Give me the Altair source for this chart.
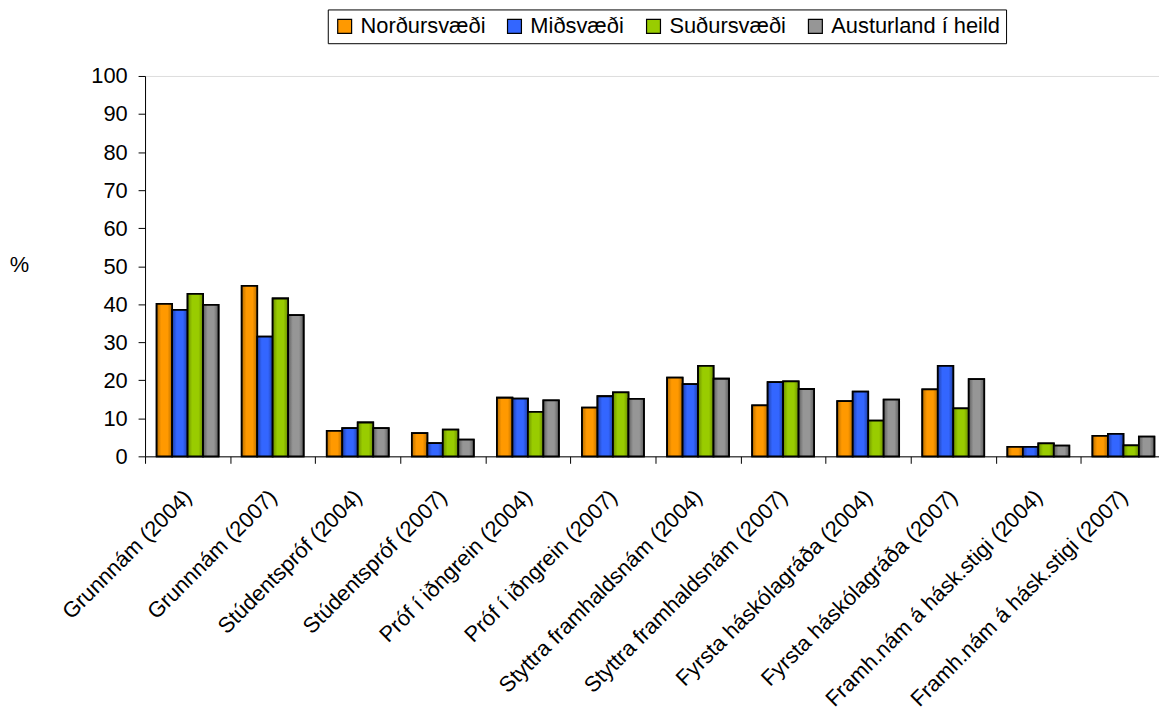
import altair as alt
import pandas as pd

categories = [
    "Grunnnám (2004)", "Grunnnám (2007)",
    "Stúdentspróf (2004)", "Stúdentspróf (2007)",
    "Próf í iðngrein (2004)", "Próf í iðngrein (2007)",
    "Styttra framhaldsnám (2004)", "Styttra framhaldsnám (2007)",
    "Fyrsta háskólagráða (2004)", "Fyrsta háskólagráða (2007)",
    "Framh.nám á hásk.stigi (2004)", "Framh.nám á hásk.stigi (2007)",
]
series = ["Norðursvæði", "Miðsvæði", "Suðursvæði", "Austurland í heild"]
colors = ["#FF9900", "#3366FF", "#99CC00", "#969696"]
dark_colors = ["#B86E00", "#1F3FA8", "#6B8F00", "#5E5E5E"]

nordur = [40.1, 44.8, 6.7, 6.1, 15.4, 12.8, 20.7, 13.4, 14.5, 17.6, 2.5, 5.4]
midur = [38.5, 31.5, 7.4, 3.5, 15.2, 15.8, 19.0, 19.5, 17.0, 23.8, 2.5, 5.9]
sudur = [42.7, 41.5, 8.9, 7.0, 11.7, 16.8, 23.8, 19.7, 9.4, 12.6, 3.4, 2.9]
austur = [39.8, 37.1, 7.4, 4.4, 14.7, 15.1, 20.4, 17.7, 14.9, 20.3, 2.8, 5.2]

y_ticks = list(range(0, 101, 10))

rows = []
for s, vals in zip(series, [nordur, midur, sudur, austur]):
    for c, v in zip(categories, vals):
        rows.append({"cat": c, "series": s, "value": v})
df = pd.DataFrame(rows)

FONT = "Liberation Sans"
FS = 22
W = 1028
BAND = W / len(categories)

x_enc = alt.X(
    "cat:N", sort=categories,
    scale=alt.Scale(paddingInner=0, paddingOuter=0),
    axis=alt.Axis(
        title=None, labelAngle=-45, labelAlign="right", labelBaseline="middle",
        tickOffset=-BAND / 2, labelOffset=BAND / 2, labelPadding=30,
        tickSize=7, tickColor="black", domainColor="black",
        labelFont=FONT, labelFontSize=FS, labelColor="black",
        labelOverlap=False, labelLimit=500,
    ),
)
xo_enc = alt.XOffset(
    "series:N", sort=series,
    scale=alt.Scale(domain=series, paddingInner=0, paddingOuter=0.75),
)
y_enc = alt.Y(
    "value:Q",
    scale=alt.Scale(domain=[0, 100], nice=False),
    axis=alt.Axis(
        values=y_ticks, grid=False, title="%", titleAngle=0,
        titleX=-127, titleY=190, titleAlign="center", titleBaseline="middle",
        titleFont=FONT, titleFontSize=FS, titleFontWeight="normal", titleColor="black",
        tickSize=7, tickColor="black", domainColor="black",
        labelFont=FONT, labelFontSize=FS, labelColor="black", labelPadding=11,
    ),
)

base = alt.Chart(df).mark_bar(stroke="black", strokeWidth=1.8).encode(
    x=x_enc, xOffset=xo_enc, y=y_enc,
    color=alt.Color(
        "series:N", sort=series,
        scale=alt.Scale(domain=series, range=colors),
        legend=alt.Legend(
            title=None, orient="none", legendX=184, legendY=-67,
            direction="horizontal", strokeColor="black", fillColor="white",
            padding=6, symbolType="square", symbolSize=196,
            symbolStrokeColor="black", symbolStrokeWidth=1.2, symbolOpacity=1,
            labelFont=FONT, labelFontSize=FS, labelColor="black",
            labelOffset=5, columnPadding=18, labelLimit=400,
        ),
    ),
)

layers = [base]
for s, c, d in zip(series, colors, dark_colors):
    grad = alt.Gradient(
        gradient="linear", x1=0, x2=1, y1=0, y2=0,
        stops=[
            alt.GradientStop(color=d, offset=0),
            alt.GradientStop(color=c, offset=0.3),
            alt.GradientStop(color=c, offset=0.7),
            alt.GradientStop(color=d, offset=1),
        ],
    )
    layers.append(
        alt.Chart(df).transform_filter(alt.datum.series == s)
        .mark_bar(fill=grad, stroke="black", strokeWidth=1.8)
        .encode(x=x_enc, xOffset=xo_enc, y=y_enc)
    )

chart = alt.layer(*layers).properties(
    width=W, height=383,
    autosize=alt.AutoSizeParams(type="none"),
    padding={"left": 138, "top": 66, "right": -7, "bottom": 258},
).configure_view(stroke=None).configure(background="white")

chart.save("out.html", embed_options={"renderer": "svg", "actions": False})
